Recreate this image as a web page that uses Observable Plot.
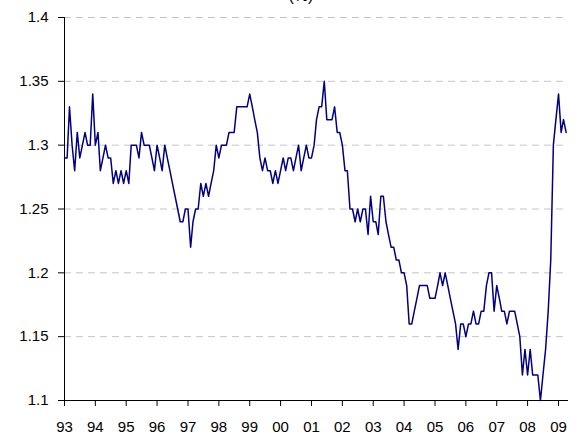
<!DOCTYPE html>
<html>
<head>
<meta charset="utf-8">
<script src="https://cdn.jsdelivr.net/npm/d3@7"></script>
<script src="https://cdn.jsdelivr.net/npm/@observablehq/plot@0.6"></script>
<style>
  body { margin: 0; background: #fff; }
  #wrap { position: relative; width: 580px; height: 436px; overflow: hidden; font-family: "Liberation Sans", Arial, sans-serif; background: #fff; }
  #title { position: absolute; left: 301px; top: -12px; transform: translateX(-50%); font-size: 16px; line-height: 16px; color: #000; white-space: nowrap; }
  #chart { position: absolute; left: 0; top: 0; }
</style>
</head>
<body>
<div id="wrap">
  <div id="title">(%)</div>
  <div id="chart"></div>
</div>
<script>
// Monthly series, January 1993 to April 2009
const startYear = 1993;
const values = [
  1.29,1.29,1.33,1.30,1.28,1.31,1.29,1.30,1.31,1.30,
  1.30,1.34,1.30,1.31,1.28,1.29,1.30,1.29,1.29,1.27,
  1.28,1.27,1.28,1.27,1.28,1.27,1.30,1.30,1.30,1.29,
  1.31,1.30,1.30,1.30,1.29,1.28,1.30,1.29,1.28,1.30,
  1.29,1.28,1.27,1.26,1.25,1.24,1.24,1.25,1.25,1.22,
  1.24,1.25,1.25,1.27,1.26,1.27,1.26,1.27,1.28,1.30,
  1.29,1.30,1.30,1.30,1.31,1.31,1.31,1.33,1.33,1.33,
  1.33,1.33,1.34,1.33,1.32,1.31,1.29,1.28,1.29,1.28,
  1.28,1.27,1.28,1.27,1.28,1.29,1.28,1.29,1.29,1.28,
  1.29,1.30,1.28,1.29,1.30,1.29,1.29,1.30,1.32,1.33,
  1.33,1.35,1.32,1.32,1.32,1.33,1.31,1.31,1.30,1.28,
  1.28,1.25,1.25,1.24,1.25,1.24,1.25,1.25,1.23,1.26,
  1.24,1.24,1.23,1.26,1.26,1.24,1.23,1.22,1.22,1.21,
  1.21,1.20,1.20,1.19,1.16,1.16,1.17,1.18,1.19,1.19,
  1.19,1.19,1.18,1.18,1.18,1.19,1.20,1.19,1.20,1.19,
  1.18,1.17,1.16,1.14,1.16,1.16,1.15,1.16,1.16,1.17,
  1.16,1.16,1.17,1.17,1.19,1.20,1.20,1.17,1.19,1.18,
  1.17,1.17,1.16,1.17,1.17,1.17,1.16,1.15,1.12,1.14,
  1.12,1.14,1.12,1.12,1.12,1.10,1.12,1.14,1.17,1.21,
  1.30,1.32,1.34,1.31,1.32,1.31
];
const yTicks = [1.1, 1.15, 1.2, 1.25, 1.3, 1.35, 1.4];
const xTickYears = [1993,1994,1995,1996,1997,1998,1999,2000,2001,2002,2003,2004,2005,2006,2007,2008,2009];
const xTickLabels = ["93","94","95","96","97","98","99","00","01","02","03","04","05","06","07","08","09"];

const data = values.map((v, i) => ({ date: new Date(Date.UTC(startYear, i, 1)), value: v }));
const xTicks = xTickYears.map(y => new Date(Date.UTC(y, 0, 1)));
const labelOf = new Map(xTicks.map((d, i) => [+d, xTickLabels[i]]));
const x0 = new Date(Date.UTC(1993, 0, 1));
const x1 = new Date(Date.UTC(2009, 3, 29));

const chart = Plot.plot({
  width: 580,
  height: 436,
  marginLeft: 64,
  marginRight: 12,
  marginTop: 17,
  marginBottom: 36,
  style: { fontFamily: "'Liberation Sans', Arial, sans-serif", fontSize: "15px", background: "transparent", color: "#000" },
  x: { type: "utc", domain: [x0, x1] },
  y: { domain: [1.1, 1.4] },
  marks: [
    Plot.gridY(yTicks.filter(d => d > 1.1), { stroke: "#c4c4c4", strokeOpacity: 1, strokeDasharray: "7,5", strokeWidth: 1 }),
    Plot.axisY({ ticks: yTicks, tickFormat: d => String(+d.toFixed(2)), tickSize: 6, tickPadding: 10, label: null, fontSize: 15 }),
    Plot.axisX({ ticks: xTicks, tickFormat: d => labelOf.get(+d), tickSize: 6, tickPadding: 15, label: null, fontSize: 15 }),
    Plot.ruleX([x0], { stroke: "#000", strokeWidth: 1 }),
    Plot.ruleY([1.1], { stroke: "#000", strokeWidth: 1 }),
    Plot.lineY(data, { x: "date", y: "value", stroke: "#000080", strokeWidth: 1.5 })
  ]
});
document.getElementById("chart").appendChild(chart);
</script>
</body>
</html>
